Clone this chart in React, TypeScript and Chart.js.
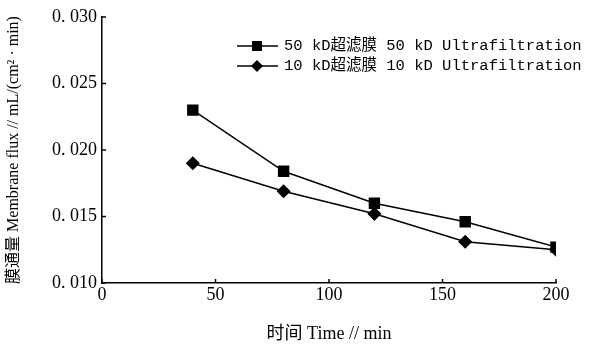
import React, { useEffect, useRef } from "react";
import { Chart, registerables } from "chart.js";

Chart.register(...registerables);

const times = [40, 80, 120, 160, 200];
const flux50 = [0.0230, 0.0184, 0.0160, 0.0146, 0.0127];
const flux10 = [0.0190, 0.0169, 0.0152, 0.0131, 0.0125];
const seriesLabels = ["50 kD超滤膜 50 kD Ultrafiltration", "10 kD超滤膜 10 kD Ultrafiltration"];
const xTitle = "时间 Time // min";
const yTitle = "膜通量 Membrane flux // mL/(cm² · min)";

const FONT = "'Liberation Serif', 'Noto Sans CJK SC', serif";
const MONO = "'Liberation Mono', 'Noto Sans CJK SC', monospace";

const innerTicks = {
  id: "innerTicks",
  afterDatasetsDraw(chart: any) {
    const ctx = chart.ctx;
    const { x, y } = chart.scales;
    const area = chart.chartArea;
    ctx.save();
    ctx.strokeStyle = "#000";
    ctx.lineWidth = 1.5;
    ctx.beginPath();
    y.ticks.forEach((t: any) => {
      const py = y.getPixelForValue(t.value);
      ctx.moveTo(area.left, py);
      ctx.lineTo(area.left + 4, py);
    });
    x.ticks.forEach((t: any) => {
      const px = x.getPixelForValue(t.value);
      ctx.moveTo(px, area.bottom);
      ctx.lineTo(px, area.bottom - 4);
    });
    ctx.stroke();
    ctx.restore();
  },
};

const customLegend = {
  id: "customLegend",
  afterDraw(chart: any) {
    const ctx = chart.ctx;
    ctx.save();
    chart.data.datasets.forEach((ds: any, i: number) => {
      const yy = 46 + i * 20;
      ctx.strokeStyle = "#000";
      ctx.lineWidth = 1.5;
      ctx.beginPath();
      ctx.moveTo(237, yy);
      ctx.lineTo(278, yy);
      ctx.stroke();
      ctx.fillStyle = "#000";
      ctx.beginPath();
      if (ds.pointStyle === "rect") {
        ctx.rect(252, yy - 5, 10, 10);
      } else {
        ctx.moveTo(257, yy - 6);
        ctx.lineTo(263, yy);
        ctx.lineTo(257, yy + 6);
        ctx.lineTo(251, yy);
        ctx.closePath();
      }
      ctx.fill();
      ctx.font = "15.5px " + MONO;
      ctx.textBaseline = "middle";
      ctx.textAlign = "left";
      ctx.fillText(ds.label, 284, yy);
    });
    ctx.restore();
  },
};

export default function App() {
  const ref = useRef<HTMLCanvasElement | null>(null);
  useEffect(() => {
    if (!ref.current) return;
    const chart = new Chart(ref.current, {
      type: "line",
      data: {
        datasets: [
          {
            label: seriesLabels[0],
            data: times.map((t, i) => ({ x: t, y: flux50[i] })),
            borderColor: "#000",
            backgroundColor: "#000",
            borderWidth: 1.5,
            pointStyle: "rect",
            pointRadius: 7,
            pointHoverRadius: 7,
          },
          {
            label: seriesLabels[1],
            data: times.map((t, i) => ({ x: t, y: flux10[i] })),
            borderColor: "#000",
            backgroundColor: "#000",
            borderWidth: 1.5,
            pointStyle: "rectRot",
            pointRadius: 6,
            pointHoverRadius: 6,
          },
        ],
      },
      options: {
        animation: false,
        responsive: false,
        devicePixelRatio: 1,
        layout: { padding: { left: 0, right: 37, top: 17, bottom: 0 } },
        plugins: {
          legend: { display: false },
          tooltip: { enabled: false },
        },
        scales: {
          x: {
            type: "linear",
            min: 0,
            max: 200,
            ticks: {
              stepSize: 50,
              color: "#000",
              font: { family: FONT, size: 18 },
              padding: 1,
            },
            grid: { display: false, drawTicks: false },
            border: { display: true, color: "#000", width: 1.5 },
            title: {
              display: true,
              text: xTitle,
              color: "#000",
              font: { family: FONT, size: 18 },
              padding: { top: 6, bottom: 0 },
            },
            afterFit: (s: any) => {
              s.height = 62;
            },
          },
          y: {
            type: "linear",
            min: 0.01,
            max: 0.03,
            ticks: {
              stepSize: 0.005,
              color: "#000",
              font: { family: FONT, size: 18 },
              padding: 5,
              callback: (v: any) => Number(v).toFixed(3).replace(".", ". "),
            },
            grid: { display: false, drawTicks: false },
            border: { display: true, color: "#000", width: 1.5 },
            title: {
              display: true,
              text: yTitle,
              color: "#000",
              font: { family: FONT, size: 16 },
              padding: { top: 4, bottom: 0 },
            },
            afterFit: (s: any) => {
              s.width = 102;
            },
          },
        },
      },
      plugins: [innerTicks, customLegend],
    });
    return () => chart.destroy();
  }, []);
  return (
    <div style={{ position: "fixed", left: 0, top: 0, width: 593, height: 345, background: "#fff" }}>
      <canvas ref={ref} width={593} height={345} />
    </div>
  );
}
